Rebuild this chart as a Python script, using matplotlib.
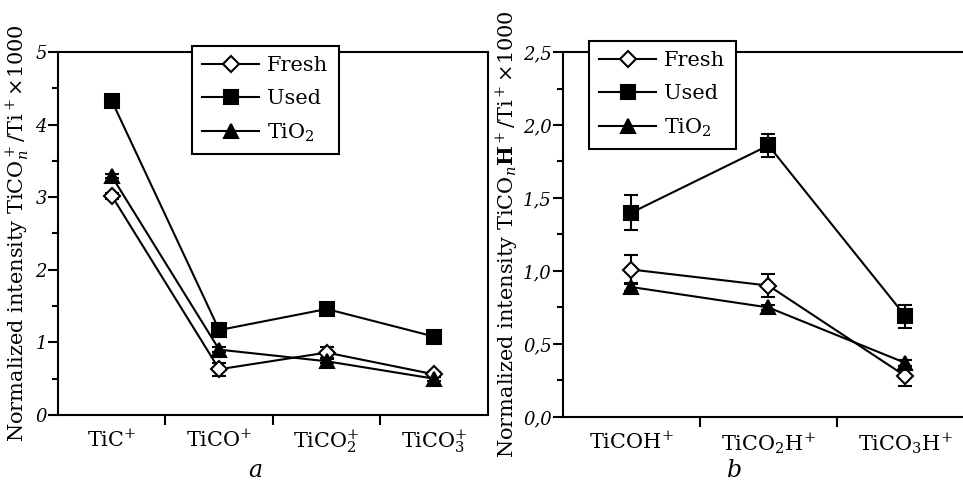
import numpy as np
import matplotlib
matplotlib.use("Agg")
import matplotlib.pyplot as plt
from matplotlib.ticker import MultipleLocator, FixedLocator

plt.rcParams["font.family"] = "DejaVu Serif"
plt.rcParams["mathtext.fontset"] = "dejavuserif"

# panel a: TiCO_n+ ions
cats_a = [r"TiC$^{+}$", r"TiCO$^{+}$", r"TiCO$_{2}^{+}$", r"TiCO$_{3}^{+}$"]
fresh_a = [3.02, 0.63, 0.86, 0.56]
fresh_a_err = [0.04, 0.09, 0.08, 0.03]
used_a = [4.33, 1.17, 1.46, 1.08]
used_a_err = [0.03, 0.03, 0.03, 0.03]
tio2_a = [3.29, 0.90, 0.74, 0.50]
tio2_a_err = [0.03, 0.03, 0.03, 0.03]

# panel b: TiCO_nH+ ions
cats_b = [r"TiCOH$^{+}$", r"TiCO$_{2}$H$^{+}$", r"TiCO$_{3}$H$^{+}$"]
fresh_b = [1.01, 0.90, 0.28]
fresh_b_err = [0.10, 0.08, 0.07]
used_b = [1.40, 1.86, 0.69]
used_b_err = [0.12, 0.08, 0.08]
tio2_b = [0.89, 0.75, 0.37]
tio2_b_err = [0.03, 0.02, 0.02]

fig = plt.figure(figsize=(9.63, 4.86), dpi=100)
ax_a = fig.add_axes([0.0602, 0.1461, 0.4465, 0.7469])
ax_b = fig.add_axes([0.5846, 0.142, 0.4268, 0.751])

lw = 1.5
styles = [
    ("Fresh", dict(marker="D", markersize=8.5, markerfacecolor="white")),
    ("Used", dict(marker="s", markersize=10.5, markerfacecolor="black")),
    (r"TiO$_2$", dict(marker="^", markersize=9.5, markerfacecolor="black")),
]


def draw(ax, cats, series, ymax, ystep, fmt, ylabel, label_x):
    x = np.arange(len(cats))
    handles = []
    for (name, st), (vals, errs) in zip(styles, series):
        h = ax.errorbar(x, vals, yerr=errs, color="black", lw=lw, capsize=5,
                        elinewidth=lw, capthick=lw, markeredgecolor="black",
                        markeredgewidth=lw, label=name, **st)
        handles.append(h.lines[0])
    ax.set_xlim(-0.5, len(cats) - 0.5)
    ax.xaxis.set_major_locator(FixedLocator(x))
    ax.set_xticklabels(cats, fontsize=15)
    ax.xaxis.set_minor_locator(FixedLocator(x[:-1] + 0.5))
    ax.tick_params(axis="x", which="major", length=0, pad=10)
    ax.tick_params(axis="x", which="minor", length=7, width=lw, direction="out")
    yt = np.arange(0, ymax + ystep / 2, ystep)
    ax.set_yticks(yt)
    ax.set_yticklabels([fmt(v) for v in yt], fontsize=13, fontstyle="italic")
    ax.yaxis.set_minor_locator(MultipleLocator(ystep / 2))
    ax.set_ylim(0, ymax)
    ax.tick_params(axis="y", which="major", length=7, width=lw, pad=1)
    ax.tick_params(axis="y", which="minor", length=4, width=lw)
    for s in ax.spines.values():
        s.set_linewidth(lw)
    ax.set_ylabel(ylabel, fontsize=15)
    ax.yaxis.set_label_coords(label_x, 0.5)
    return handles


h_a = draw(ax_a, cats_a,
           [(fresh_a, fresh_a_err), (used_a, used_a_err), (tio2_a, tio2_a_err)],
           5, 1, lambda v: "%d" % v,
           r"Normalized intensity TiCO$_n^+$/Ti$^+$×1000", -0.06)
h_b = draw(ax_b, cats_b,
           [(fresh_b, fresh_b_err), (used_b, used_b_err), (tio2_b, tio2_b_err)],
           2.5, 0.5, lambda v: ("%.1f" % v).replace(".", ","),
           r"Normalized intensity TiCO$_n$$\mathbf{H}^+$/Ti$^+$×1000", -0.105)

for handles, loc in [(h_a, (0.1994, 0.683)), (h_b, (0.6116, 0.693))]:
    leg = fig.legend(handles=handles, labels=["Fresh", "Used", r"TiO$_2$"],
                     loc="lower left", bbox_to_anchor=loc, fontsize=15,
                     fancybox=False, framealpha=1, edgecolor="black",
                     handlelength=2.7, handletextpad=0.4, labelspacing=0.65,
                     borderpad=0.5, borderaxespad=0)
    leg.get_frame().set_linewidth(lw)

fig.text(255 / 963, 1 - 470 / 486, "a", fontsize=17, fontstyle="italic",
         ha="center", va="center")
fig.text(735 / 963, 1 - 470 / 486, "b", fontsize=17, fontstyle="italic",
         ha="center", va="center")

fig.savefig("out.png", dpi=100)
